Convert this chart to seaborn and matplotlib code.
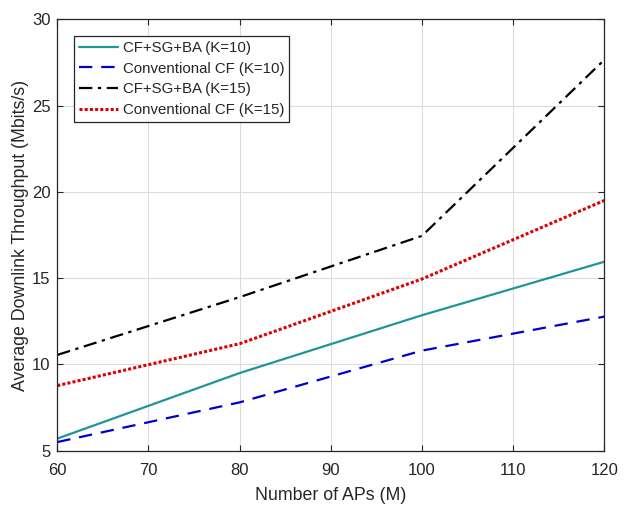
import matplotlib
matplotlib.use('Agg')
import matplotlib.pyplot as plt
import seaborn as sns
import pandas as pd

# number of APs on the x axis
aps = [60, 80, 100, 120]

# average downlink throughput (Mbits/s)
cf_sg_ba_k10 = [5.7, 9.5, 12.85, 15.95]
conv_cf_k10 = [5.5, 7.8, 10.8, 12.77]
cf_sg_ba_k15 = [10.55, 13.9, 17.45, 27.65]
conv_cf_k15 = [8.77, 11.2, 14.95, 19.5]

labels = ['CF+SG+BA (K=10)', 'Conventional CF (K=10)',
          'CF+SG+BA (K=15)', 'Conventional CF (K=15)']

sns.set_style('ticks')
plt.rcParams['font.family'] = ['Liberation Sans', 'DejaVu Sans']

fig = plt.figure(figsize=(6.24, 5.08), dpi=100)
ax = fig.add_axes([0.0918, 0.1128, 0.8766, 0.8492])

df = pd.DataFrame({'M': aps * 4,
                   'rate': cf_sg_ba_k10 + conv_cf_k10 + cf_sg_ba_k15 + conv_cf_k15,
                   'series': sum([[l] * len(aps) for l in labels], [])})

styles = {
    labels[0]: dict(color='#1f9696', linestyle='-', linewidth=1.6),
    labels[1]: dict(color='#0000cc', linestyle=(0, (6, 4)), linewidth=1.6),
    labels[2]: dict(color='#000000', linestyle=(0, (6, 2.5, 1.5, 2.5)), linewidth=1.6),
    labels[3]: dict(color='#dd0000', linestyle=(0, (1, 0.7)), linewidth=2.2),
}

for lab in labels:
    sns.lineplot(data=df[df['series'] == lab], x='M', y='rate', ax=ax,
                 label=lab, **styles[lab])

ax.set_xlim(60, 120)
ax.set_ylim(5, 30)
ax.set_xticks(range(60, 121, 10))
ax.set_yticks(range(5, 31, 5))
ax.grid(True, color='#dcdcdc', linewidth=0.8)
ax.set_axisbelow(True)
ax.tick_params(direction='in', top=True, right=True, length=4,
               labelsize=12, colors='#262626', labelcolor='#262626', pad=5)
ax.tick_params(axis='x', pad=9)
for s in ax.spines.values():
    s.set_color('#262626')
    s.set_linewidth(0.9)

ax.set_xlabel('Number of APs (M)', fontsize=12.8, color='#262626', labelpad=6)
ax.set_ylabel('Average Downlink Throughput (Mbits/s)', fontsize=12.8,
              color='#262626', labelpad=2)

leg = ax.legend(loc='upper left', bbox_to_anchor=(0.031, 0.961), fontsize=10.8,
                frameon=True, fancybox=False, handlelength=2.6,
                handletextpad=0.33, borderpad=0.32, labelspacing=0.45,
                borderaxespad=0)
leg.get_frame().set_edgecolor('#262626')
leg.get_frame().set_linewidth(0.9)
leg.get_frame().set_alpha(1)

fig.savefig('out.png', dpi=100)
